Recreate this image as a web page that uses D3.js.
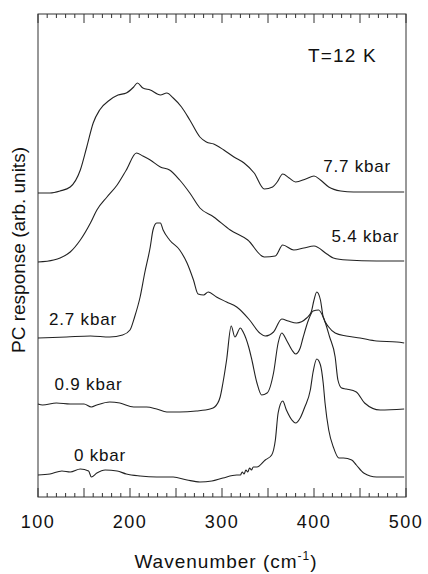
<!DOCTYPE html>
<html>
<head>
<meta charset="utf-8">
<script src="https://cdn.jsdelivr.net/npm/d3@7"></script>
<style>
  body { margin: 0; background: #fff; }
  svg text { font-family: "Liberation Sans", Arial, Helvetica, sans-serif; fill: #111; }
</style>
</head>
<body>
<svg id="chart" width="428" height="574"></svg>
<script>
// wavenumber (cm-1), PC response (arb. units, curves offset for clarity)
const kbar77 = [[100,304],[113,304],[124,306],[135,310],[146,327],[153,350],[160,374],[167,387],[178,397],[187,402],[196,404],[204,410],[208,414],[214,409],[222,407],[233,402],[240,404],[247,399],[256,390],[265,377],[276,360],[283,355],[291,353],[302,347],[313,340],[324,334],[335,324],[346,308],[355,310],[360,315],[366,323],[373,319],[380,315],[391,318],[400,321],[407,317],[416,310],[429,306],[443,305],[472,305],[498,305]]
const kbar54 = [[100,235],[117,237],[124,239],[135,245],[146,257],[157,274],[164,287],[175,300],[186,312],[196,327],[207,344],[214,341],[222,337],[233,330],[243,327],[254,317],[265,304],[276,289],[291,280],[309,267],[328,257],[346,240],[358,241],[366,252],[378,247],[389,249],[400,251],[414,243],[421,239],[436,237],[468,236],[498,236]]
const kbar27 = [[100,159],[131,160],[157,161],[178,160],[192,162],[200,167],[205,180],[211,200],[216,224],[222,250],[225,267],[229,274],[233,274],[236,267],[243,257],[254,247],[262,234],[269,217],[274,203],[280,202],[285,205],[294,200],[305,195],[316,190],[330,177],[341,164],[347,161],[356,165],[365,178],[372,176],[381,174],[392,179],[397,185],[400,197],[403,205],[407,197],[410,180],[416,170],[423,164],[435,161],[450,159],[468,156],[490,155],[498,154]]
const kbar09 = [[100,93],[105,92],[120,94],[135,93],[150,93],[158,90],[164,92],[178,95],[189,94],[204,90],[218,90],[229,88],[240,85],[254,85],[272,86],[287,88],[292,90],[298,100],[301,114],[305,137],[310,171],[314,160],[320,169],[323,165],[329,150],[332,139],[338,114],[343,102],[349,104],[356,124],[361,154],[365,164],[370,157],[376,147],[380,143],[385,149],[388,159],[394,177],[399,186],[405,187],[410,180],[417,160],[423,140],[426,117],[430,109],[435,108],[446,105],[455,94],[472,87],[498,88]]
const kbar0 = [[100,22],[113,23],[126,26],[135,25],[146,28],[155,26],[158,20],[164,24],[173,27],[186,26],[196,23],[211,21],[229,20],[247,20],[262,17],[276,15],[289,16],[301,19],[316,22],[320,22],[322,25],[324,23],[326,27],[328,25],[330,29],[332,27],[334,30],[338,30],[347,37],[354,42],[358,57],[361,84],[366,96],[370,87],[376,77],[380,74],[385,79],[390,90],[396,107],[399,125],[403,138],[407,132],[410,114],[412,94],[416,67],[421,50],[427,39],[432,39],[441,37],[446,32],[454,24],[468,20],[486,20],[498,20]]

const seriesList = [kbar77, kbar54, kbar27, kbar09, kbar0]
const labels = [
  { text: '7.7 kbar', wn: 410, v: 325 },
  { text: '5.4 kbar', wn: 419, v: 255 },
  { text: '2.7 kbar', wn: 112, v: 172 },
  { text: '0.9 kbar', wn: 118, v: 107 },
  { text: '0 kbar',   wn: 139, v: 36 }
]
const xTicks = [100, 200, 300, 400, 500]

const svg = d3.select('#chart')
const margin = { top: 14, right: 22, bottom: 77, left: 38 }
const width = 428, height = 574
const innerW = width - margin.left - margin.right
const innerH = height - margin.top - margin.bottom

const x = d3.scaleLinear().domain([100, 500]).range([margin.left, margin.left + innerW])
const y = d3.scaleLinear().domain([0, 483]).range([margin.top + innerH, margin.top])

// frame
svg.append('rect')
  .attr('x', x(100)).attr('y', y(483))
  .attr('width', x(500) - x(100)).attr('height', y(0) - y(483))
  .attr('fill', 'none').attr('stroke', '#333').attr('stroke-width', 1)

// inward ticks, minor every 10, major every 50
const tickVals = d3.range(100, 501, 10)
const tickLen = d => (d % 50 === 0 ? 9 : 4)
svg.append('g').selectAll('line').data(tickVals).join('line')
  .attr('x1', d => x(d)).attr('x2', d => x(d))
  .attr('y1', y(0)).attr('y2', d => y(0) - tickLen(d))
  .attr('stroke', '#333').attr('stroke-width', 1)
svg.append('g').selectAll('line').data(tickVals).join('line')
  .attr('x1', d => x(d)).attr('x2', d => x(d))
  .attr('y1', y(483)).attr('y2', d => y(483) + tickLen(d))
  .attr('stroke', '#333').attr('stroke-width', 1)

// tick labels
svg.append('g').selectAll('text').data(xTicks).join('text')
  .attr('x', d => x(d)).attr('y', 528)
  .attr('text-anchor', 'middle')
  .style('font-size', '18px').style('letter-spacing', '1.5px')
  .text(d => d)

// curves
const line = d3.line()
  .x(d => x(d[0])).y(d => y(d[1]))
  .curve(d3.curveMonotoneX)
svg.append('g').selectAll('path').data(seriesList).join('path')
  .attr('d', line)
  .attr('fill', 'none').attr('stroke', '#222').attr('stroke-width', 1.1)

// curve labels
svg.append('g').selectAll('text').data(labels).join('text')
  .attr('x', d => x(d.wn)).attr('y', d => y(d.v))
  .style('font-size', '17px').style('letter-spacing', '0.8px')
  .text(d => d.text)

svg.append('text')
  .attr('x', 308).attr('y', 62)
  .style('font-size', '19px').style('letter-spacing', '1.2px')
  .text('T=12 K')

// axis titles
const xt = svg.append('text')
  .attr('x', (x(100) + x(500)) / 2 + 4).attr('y', 568)
  .attr('text-anchor', 'middle')
  .style('font-size', '19px').style('letter-spacing', '1px')
xt.append('tspan').text('Wavenumber (cm')
xt.append('tspan').attr('dy', -8).style('font-size', '12px').text('-1')
xt.append('tspan').attr('dy', 8).text(')')

svg.append('text')
  .attr('transform', 'translate(25,' + 250 + ') rotate(-90)')
  .attr('text-anchor', 'middle')
  .style('font-size', '19px')
  .text('PC response (arb. units)')
</script>
</body>
</html>
